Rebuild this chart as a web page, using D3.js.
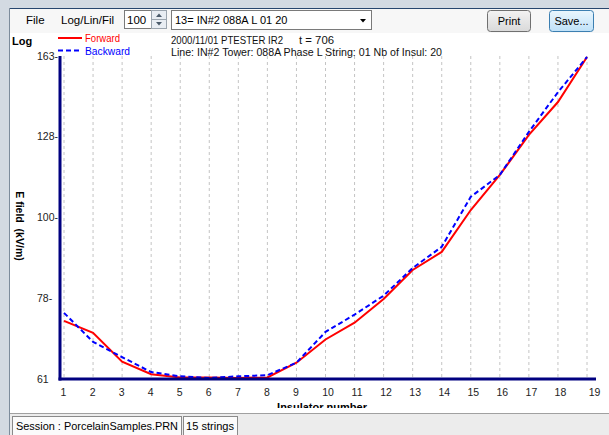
<!DOCTYPE html>
<html><head><meta charset="utf-8">
<script src="https://cdn.jsdelivr.net/npm/d3@7/dist/d3.min.js"></script>
<style>body{margin:0;background:#fff;}svg{display:block;}</style>
</head><body>
<svg id="c" width="609" height="435"></svg>
<script>
const insulators = [1,2,3,4,5,6,7,8,9,10,11,12,13,14,15,16,17,18,19];
const forward  = [72.8,70.2,64.3,61.9,61.3,61.3,61.2,61.3,64.1,68.8,72.4,77.8,85.0,89.8,102.0,113.5,128.2,141.7,162.5];
const backward = [74.6,68.3,65.2,62.3,61.5,61.2,61.5,61.7,64.1,70.4,74.2,78.6,85.5,91.2,106.2,113.5,129.4,146.0,162.5];
const yTicks = [61,78,100,128,163];
const seriesNames = ["Forward","Backward"];
const titleLine1 = "2000/11/01 PTESTER IR2";
const titleT = "t = 706";
const titleLine2 = "Line: IN#2 Tower: 088A Phase L String: 01 Nb of Insul: 20";

const svg = d3.select("#c");
const F = "'Liberation Sans', Arial, sans-serif";

function narrow(sel, w){ return sel.attr("textLength",w).attr("lengthAdjust","spacingAndGlyphs"); }

// window chrome
svg.append("rect").attr("x",0).attr("y",0).attr("width",609).attr("height",435).attr("fill","#fff");
svg.append("rect").attr("x",10).attr("y",9).attr("width",599).attr("height",24).attr("fill","#f7f7f7");
svg.append("rect").attr("x",0).attr("y",0).attr("width",609).attr("height",8).attr("fill","#d3dae2");
svg.append("rect").attr("x",0).attr("y",0).attr("width",9).attr("height",435).attr("fill","#d3dae2");
svg.append("line").attr("x1",9).attr("x2",609).attr("y1",8.5).attr("y2",8.5).attr("stroke","#27466e");
svg.append("line").attr("x1",9.5).attr("x2",9.5).attr("y1",8).attr("y2",435).attr("stroke","#7d8c9c");

// toolbar
svg.append("text").attr("x",26).attr("y",24).attr("font-family",F).attr("font-size",11.5).text("File");
svg.append("text").attr("x",61).attr("y",24).attr("font-family",F).attr("font-size",11.5).text("Log/Lin/Fil");
svg.append("rect").attr("x",124.5).attr("y",10.5).attr("width",27).attr("height",18).attr("fill","#fff").attr("stroke","#7a7a7a");
svg.append("text").attr("x",127).attr("y",24).attr("font-family",F).attr("font-size",11.5).text("100");
svg.append("rect").attr("x",151.5).attr("y",10.5).attr("width",15).attr("height",18).attr("fill","#e8edf3").attr("stroke","#9aa4ae");
svg.append("line").attr("x1",152).attr("x2",166).attr("y1",19.5).attr("y2",19.5).attr("stroke","#9aa4ae");
svg.append("path").attr("d","M156,17 L159,13.5 L162,17 Z").attr("fill","#4b5b6b");
svg.append("path").attr("d","M156,22 L159,25.5 L162,22 Z").attr("fill","#4b5b6b");
svg.append("rect").attr("x",171.5).attr("y",10.5).attr("width",200).attr("height",19).attr("fill","#fff").attr("stroke","#7a7a7a");
svg.append("text").attr("x",175).attr("y",24).attr("font-family",F).attr("font-size",11).text("13= IN#2 088A L 01 20");
svg.append("path").attr("d","M360,19 L366,19 L363,22.5 Z").attr("fill","#000");
const defs = svg.append("defs");
const g1 = defs.append("linearGradient").attr("id","gp").attr("x1",0).attr("x2",0).attr("y1",0).attr("y2",1);
g1.append("stop").attr("offset",0).attr("stop-color","#f3f3f3");
g1.append("stop").attr("offset",1).attr("stop-color","#d9d9d9");
const g2 = defs.append("linearGradient").attr("id","gs").attr("x1",0).attr("x2",0).attr("y1",0).attr("y2",1);
g2.append("stop").attr("offset",0).attr("stop-color","#eaf6fd");
g2.append("stop").attr("offset",1).attr("stop-color","#bfe1f8");
svg.append("rect").attr("x",487.5).attr("y",10.5).attr("width",43).attr("height",21).attr("rx",3).attr("fill","url(#gp)").attr("stroke","#707070");
svg.append("text").attr("x",509).attr("y",25).attr("text-anchor","middle").attr("font-family",F).attr("font-size",11).text("Print");
svg.append("rect").attr("x",549.5).attr("y",10.5).attr("width",44).attr("height",21).attr("rx",3).attr("fill","url(#gs)").attr("stroke","#3c7fb1");
svg.append("text").attr("x",571.5).attr("y",25).attr("text-anchor","middle").attr("font-family",F).attr("font-size",11).text("Save...");

// scales
const x = d3.scaleLinear().domain([1,19]).range([64,587]);
const y = d3.scaleLog().domain([61,163]).range([379,56]);

// clip for chart
defs.append("clipPath").attr("id","clipC").append("rect").attr("x",10).attr("y",33).attr("width",599).attr("height",375);
const chart = svg.append("g").attr("clip-path","url(#clipC)");

// gridlines
chart.append("g").selectAll("line").data(insulators).join("line")
  .attr("x1",d=>x(d)).attr("x2",d=>x(d)).attr("y1",56).attr("y2",378)
  .attr("stroke","#c4c4c4").attr("stroke-dasharray","3,3");

// lines
const lineGen = arr => d3.line().x((d,i)=>x(insulators[i])).y(d=>y(d))(arr);
chart.append("path").attr("d",lineGen(forward)).attr("fill","none").attr("stroke","#ff0000").attr("stroke-width",2);
chart.append("path").attr("d",lineGen(backward)).attr("fill","none").attr("stroke","#0000ff").attr("stroke-width",2).attr("stroke-dasharray","5,3");

// axes
const yAxis = chart.append("g").attr("transform","translate(60,0)")
  .call(d3.axisLeft(y).tickValues(yTicks).tickSize(0).tickFormat(d=> d===61 ? "61" : d+"-"));
yAxis.select(".domain").remove();
yAxis.selectAll("text").attr("text-anchor","start").attr("x",-23).attr("dy","0.35em")
  .attr("font-family",F).attr("font-size",10.5).attr("fill","#222");
chart.append("line").attr("x1",60).attr("x2",60).attr("y1",y(163)).attr("y2",380.5).attr("stroke","#000080").attr("stroke-width",3);

const xAxis = chart.append("g").attr("transform","translate(0,379)")
  .call(d3.axisBottom(x).tickValues(insulators).tickSize(0).tickFormat(d=>String(d)));
xAxis.select(".domain").remove();
xAxis.selectAll("text").attr("y",13).attr("dy","0.35em")
  .attr("dx",d=> d<10 ? -1 : (d===19 ? 7 : 2))
  .attr("font-family",F).attr("font-size",10.5).attr("fill","#222");
chart.append("line").attr("x1",58.5).attr("x2",596).attr("y1",379).attr("y2",379).attr("stroke","#000080").attr("stroke-width",3);

// labels
chart.append("text").attr("x",12).attr("y",45).attr("font-family",F).attr("font-weight","bold").attr("font-size",11).text("Log");
chart.append("text").attr("transform","translate(20,226) rotate(90)").attr("text-anchor","middle").attr("dy","0.35em")
  .attr("font-family",F).attr("font-weight","bold").attr("font-size",10.5).attr("xml:space","preserve").text("E field  (kV/m)");
chart.append("text").attr("x",322).attr("y",411).attr("text-anchor","middle")
  .attr("font-family",F).attr("font-weight","bold").attr("font-size",11).text("Insulator number");

// legend
const legColors = ["#ff0000","#0000ff"];
const legW = [35,45];
const leg = chart.append("g").selectAll("g").data(seriesNames).join("g")
  .attr("transform",(d,i)=>`translate(58,${38+i*12.5})`);
leg.append("line").attr("x1",0).attr("x2",(d,i)=> i? 23:24).attr("y1",0).attr("y2",0)
  .attr("stroke",(d,i)=>legColors[i]).attr("stroke-width",2).attr("stroke-dasharray",(d,i)=> i? "5,3":null);
leg.append("text").attr("x",27).attr("dy","0.35em").attr("font-family",F).attr("font-size",11.5)
  .attr("fill",(d,i)=>legColors[i]).attr("textLength",(d,i)=>legW[i]).attr("lengthAdjust","spacingAndGlyphs").text(d=>d);

// titles
narrow(chart.append("text").attr("x",171).attr("y",44).attr("font-family",F).attr("font-size",10.5).attr("fill","#111"),112).text(titleLine1);
narrow(chart.append("text").attr("x",299).attr("y",44).attr("font-family",F).attr("font-size",11).attr("fill","#111"),35).text(titleT);
narrow(chart.append("text").attr("x",171).attr("y",56).attr("font-family",F).attr("font-size",11.5).attr("fill","#111"),271).text(titleLine2);

// status bar
svg.append("line").attr("x1",10).attr("x2",609).attr("y1",413.5).attr("y2",413.5).attr("stroke","#a0a0a0");
svg.append("rect").attr("x",10).attr("y",414).attr("width",599).attr("height",21).attr("fill","#ececec");
svg.append("rect").attr("x",12.5).attr("y",416.5).attr("width",169).attr("height",19).attr("fill","#fbfbfb").attr("stroke","#8a8a8a");
narrow(svg.append("text").attr("x",16).attr("y",430).attr("font-family",F).attr("font-size",11.5),162).text("Session : PorcelainSamples.PRN");
svg.append("rect").attr("x",183.5).attr("y",416.5).attr("width",54).attr("height",19).attr("fill","#fbfbfb").attr("stroke","#8a8a8a");
narrow(svg.append("text").attr("x",186).attr("y",430).attr("font-family",F).attr("font-size",11.5),48).text("15 strings");
</script>
</body></html>
